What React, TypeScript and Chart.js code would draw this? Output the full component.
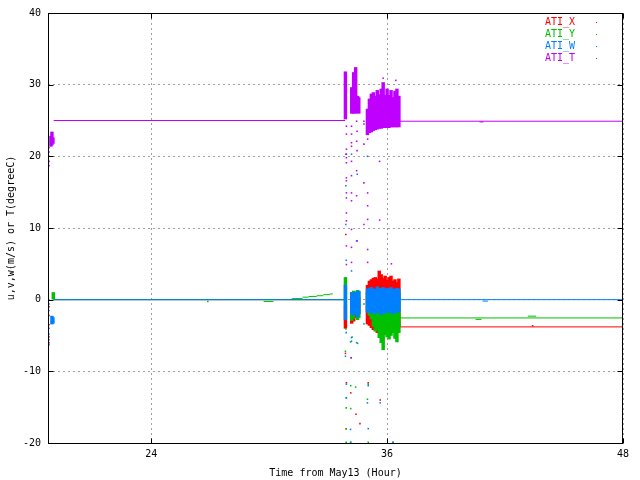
import React, { useEffect, useRef } from "react";
import { Chart, registerables } from "chart.js";

Chart.register(...registerables);

const MONO = "DejaVu Sans Mono";

// axes
const X_MIN = 18.75;
const X_MAX = 48;
const X_TICKS = [24, 36, 48];
const Y_MIN = -20;
const Y_MAX = 40;
const Y_TICKS = [-20, -10, 0, 10, 20, 30, 40];

const NAMES = ["ATI_X", "ATI_Y", "ATI_W", "ATI_T"];
const COLORS = ["#ff0000", "#00c000", "#0080ff", "#c000ff"];

// flat stretches: [from hour, to hour, value]
const X_FLAT = [[19.04, 33.87, 0], [36.65, 48, -3.8]];
const Y_FLAT = [
  [19.04, 33.87, 0], [29.72, 30.22, -0.25],
  [31.15, 31.7, 0.15], [31.7, 32.0, 0.35], [32.0, 32.42, 0.45],
  [32.42, 32.76, 0.55], [32.76, 33.1, 0.7], [33.1, 33.24, 0.8],
  [36.65, 48, -2.55], [40.5, 40.8, -2.75], [43.16, 43.58, -2.3],
];
const W_FLAT = [[19.04, 33.87, 0], [36.65, 48, 0], [40.85, 41.13, -0.2]];
const T_FLAT = [[19.04, 33.87, 25], [36.65, 48, 24.9], [40.7, 40.9, 24.8]];

// noisy stretches: [hour, low, high]
const X_BURST = [
  [33.88, -4.0, -1.0],
  [34.2, -3.3, 0.5], [34.3, -3.0, 0.5], [34.4, -2.5, 0.5], [34.5, -2.2, 0.5], [34.56, -2.0, 0.3],
  [35.0, -3.4, 2.0], [35.1, -3.6, 2.6], [35.2, -3.9, 2.8], [35.3, -4.2, 3.0], [35.4, -4.0, 3.1],
  [35.5, -4.6, 2.9], [35.6, -4.3, 4.0], [35.7, -4.8, 3.5], [35.8, -4.5, 3.0], [35.9, -4.1, 3.3],
  [36.0, -4.4, 2.7], [36.1, -4.2, 3.1], [36.2, -3.9, 3.3], [36.3, -4.0, 2.6], [36.4, -4.3, 2.8],
  [36.5, -4.1, 2.4], [36.6, -3.8, 2.9],
];
const Y_BURST = [
  [19.02, 0, 1.0],
  [33.88, -1.0, 3.1],
  [34.2, -2.9, 1.0], [34.3, -2.6, 1.2], [34.4, -2.0, 0.8], [34.5, -2.8, 1.3], [34.56, -2.5, 1.1],
  [35.0, -1.6, 1.0], [35.1, -2.2, 1.1], [35.2, -2.7, 0.9], [35.3, -3.7, 1.0], [35.4, -4.4, 1.2],
  [35.5, -4.2, 0.9], [35.6, -5.3, 1.0], [35.7, -6.0, 1.1], [35.8, -7.0, 0.9], [35.9, -4.9, 1.0],
  [36.0, -5.2, 1.2], [36.1, -5.5, 1.0], [36.2, -5.0, 0.9], [36.3, -4.6, 1.0], [36.4, -5.4, 1.1],
  [36.5, -5.9, 1.0], [36.6, -4.6, 0.9],
];
const W_BURST = [
  [18.95, -3.4, -2.3], [19.0, -3.3, -2.5],
  [33.88, -2.8, 2.0],
  [34.2, -2.0, 1.0], [34.3, -2.2, 0.9], [34.4, -1.8, 1.1], [34.5, -2.4, 1.0], [34.56, -1.9, 1.2],
  [35.0, -1.8, 1.5], [35.1, -1.6, 1.6], [35.2, -1.9, 1.7], [35.3, -1.7, 1.5], [35.4, -2.0, 1.4],
  [35.5, -1.6, 1.8], [35.6, -1.8, 1.5], [35.7, -2.1, 1.6], [35.8, -1.7, 1.7], [35.9, -1.9, 1.4],
  [36.0, -1.6, 1.6], [36.1, -1.8, 1.5], [36.2, -1.7, 1.7], [36.3, -2.0, 1.5], [36.4, -1.6, 1.4],
  [36.5, -1.8, 1.6], [36.6, -1.7, 1.5],
];
const T_BURST = [
  [18.9, 21.4, 22.8], [18.95, 21.6, 23.4], [19.0, 21.8, 22.6],
  [33.88, 25.2, 31.8],
  [34.2, 26.0, 29.6], [34.3, 26.0, 31.7], [34.4, 26.0, 32.4], [34.5, 26.1, 28.4], [34.56, 26.0, 28.2],
  [35.0, 23.0, 26.6], [35.1, 23.3, 28.0], [35.2, 23.4, 28.7], [35.3, 23.6, 28.9], [35.4, 23.7, 28.4],
  [35.5, 23.8, 29.2], [35.6, 23.9, 28.6], [35.7, 23.9, 29.4], [35.8, 24.0, 30.3], [35.9, 24.0, 28.5],
  [36.0, 24.0, 29.4], [36.1, 24.0, 28.5], [36.2, 24.1, 29.2], [36.3, 24.1, 28.2], [36.4, 24.1, 29.1],
  [36.5, 24.1, 29.4], [36.6, 24.1, 28.4],
];

// stray samples: [hour, value]
const X_DOTS = [
  [18.8, -1.0], [18.8, -2.2], [18.8, -3.5], [18.8, -5.2], [18.8, -6.0],
  [33.9, 9.1], [33.88, -7.5], [33.93, -11.6], [34.15, -13.0], [34.42, -16.0], [34.62, -17.3],
  [33.92, -18.0], [35.04, -11.6], [35.65, -14.0], [43.4, -3.65],
];
const Y_DOTS = [
  [26.88, -0.25],
  [33.92, 3.0], [33.9, -4.1], [34.22, -5.2], [34.14, -5.9], [34.5, -6.1], [33.88, -7.2],
  [34.15, -12.0], [34.4, -12.2], [35.04, -11.8], [33.92, -13.7], [35.0, -13.9], [33.92, -15.1],
  [34.15, -15.2], [33.92, -18.0], [33.92, -19.9], [34.15, -19.9], [35.04, -19.9], [36.3, -19.9],
];
const W_DOTS = [
  [18.8, -0.6], [18.8, -1.5], [18.8, -4.0], [18.8, -4.8], [18.8, -5.6], [18.8, -6.3],
  [33.9, 20.3], [34.19, 20.3], [34.48, 17.5], [35.0, 20.0], [33.9, 15.9], [33.9, 10.5],
  [34.48, 8.2], [33.92, 5.5], [34.19, 4.0], [33.92, -4.6], [34.19, -5.3], [34.19, -5.8],
  [34.45, -6.0], [34.82, -0.6], [34.82, -3.4], [33.88, -7.9], [34.17, -8.1],
  [33.93, -11.8], [35.04, -12.0], [33.93, -13.7], [35.0, -14.4], [35.65, -14.4],
  [34.14, -18.1], [35.04, -18.0], [34.14, -19.9], [36.3, -19.9],
];
const T_DOTS = [
  [18.8, 21.2], [18.8, 20.6], [18.8, 20.0], [18.8, 19.3], [18.8, 18.7],
  [33.93, 24.2], [33.93, 23.1], [33.93, 21.0], [33.93, 20.3], [33.93, 19.8], [33.93, 19.1],
  [33.93, 17.0], [33.93, 16.6], [33.93, 14.9], [33.93, 14.2], [33.93, 12.1], [33.93, 11.0],
  [33.93, 7.5], [33.93, 4.9],
  [34.19, 24.2], [34.19, 23.1], [34.19, 21.9], [34.19, 21.4], [34.19, 19.3], [34.19, 17.3],
  [34.19, 14.9], [34.19, 13.8], [34.19, 9.8], [34.19, 7.3], [34.19, 5.2], [34.17, -8.1],
  [34.45, 24.9], [34.45, 22.1], [34.45, 18.0], [34.45, 14.5], [34.45, 8.2], [34.47, 23.5], [34.47, 20.8],
  [34.82, 24.9], [34.82, 24.5], [34.82, 21.7], [34.82, 16.3], [34.82, 10.5],
  [35.01, 22.4], [35.01, 14.9], [35.01, 13.1], [35.01, 11.2], [35.01, 7.0], [35.01, 5.2],
  [35.62, 19.3], [35.62, 11.1], [36.22, 5.0], [35.8, 30.9], [36.44, 30.6],
];

const FLATS = [X_FLAT, Y_FLAT, W_FLAT, T_FLAT];
const BURSTS = [X_BURST, Y_BURST, W_BURST, T_BURST];
const DOTS = [X_DOTS, Y_DOTS, W_DOTS, T_DOTS];

const flatPoints = (segs: number[][]) =>
  segs.flatMap(([a, b, v]) => [{ x: a, y: v }, { x: b, y: v }, { x: b, y: null }]);

// frame, inward tics, axis titles and the key, gnuplot style
const gnuplotDecor = {
  id: "gnuplotDecor",
  afterDraw(chart: any) {
    const { ctx, chartArea: a } = chart;
    const xs = chart.scales.x;
    const ys = chart.scales.y;
    const L = a.left + 0.5, R = a.right - 0.5, T = a.top + 0.5, B = a.bottom + 0.5;
    ctx.save();
    ctx.strokeStyle = "#000";
    ctx.lineWidth = 1;
    ctx.strokeRect(L, T, R - L, B - T);
    ctx.beginPath();
    X_TICKS.forEach((v) => {
      const px = Math.round(xs.getPixelForValue(v)) + 0.5;
      ctx.moveTo(px, B); ctx.lineTo(px, B - 5);
      ctx.moveTo(px, T); ctx.lineTo(px, T + 5);
    });
    Y_TICKS.forEach((v) => {
      const py = Math.round(ys.getPixelForValue(v)) + 0.5;
      ctx.moveTo(L, py); ctx.lineTo(L + 5, py);
      ctx.moveTo(R, py); ctx.lineTo(R - 5, py);
    });
    ctx.stroke();

    ctx.font = `10px ${MONO}`;
    ctx.fillStyle = "#000";
    ctx.textAlign = "center";
    ctx.textBaseline = "middle";
    ctx.fillText("Time from May13 (Hour)", (a.left + a.right) / 2, 473);
    ctx.save();
    ctx.translate(11, (a.top + a.bottom) / 2);
    ctx.rotate(-Math.PI / 2);
    ctx.fillText("u,v,w(m/s) or T(degreeC)", 0, 0);
    ctx.restore();

    ctx.textAlign = "right";
    NAMES.forEach((name, i) => {
      const y = 22 + i * 12;
      ctx.fillStyle = COLORS[i];
      ctx.fillText(name, 575, y);
      ctx.fillRect(596, Math.round(y), 1, 1);
    });
    ctx.restore();
  },
};

export default function App() {
  const canvasRef = useRef<HTMLCanvasElement>(null);

  useEffect(() => {
    if (!canvasRef.current) return;
    const datasets: any[] = [];
    NAMES.forEach((name, i) => {
      const order = 4 - i;
      datasets.push({
        type: "scatter",
        label: name,
        data: flatPoints(FLATS[i]),
        showLine: true,
        spanGaps: false,
        borderColor: COLORS[i],
        borderWidth: 1,
        pointRadius: 0,
        order,
      });
      datasets.push({
        type: "bar",
        label: name,
        data: BURSTS[i].map(([t, lo, hi]) => ({ x: t, y: [lo, hi] })),
        backgroundColor: COLORS[i],
        borderWidth: 0,
        barThickness: 2.8,
        grouped: false,
        order,
      });
      datasets.push({
        type: "scatter",
        label: name,
        data: DOTS[i].map(([t, v]) => ({ x: t, y: v })),
        showLine: false,
        pointStyle: "rect",
        pointRadius: 1.1,
        pointBorderWidth: 0,
        pointBackgroundColor: COLORS[i],
        order,
      });
    });

    const tickFont = { family: MONO, size: 10 };
    const chart = new Chart(canvasRef.current, {
      type: "scatter",
      data: { datasets },
      options: {
        animation: false,
        responsive: false,
        devicePixelRatio: 1,
        layout: { padding: { top: 11, right: 17, left: 0, bottom: 0 } },
        plugins: { legend: { display: false }, tooltip: { enabled: false } },
        scales: {
          x: {
            type: "linear",
            min: X_MIN,
            max: X_MAX,
            offset: false,
            afterBuildTicks: (s: any) => { s.ticks = X_TICKS.map((value) => ({ value })); },
            afterFit: (s: any) => { s.height = 37; },
            ticks: { font: tickFont, color: "#000", padding: 5, maxRotation: 0, autoSkip: false },
            grid: { color: "#a0a0a0", drawTicks: false, offset: false },
            border: { display: false, dash: [2, 3] },
          },
          y: {
            type: "linear",
            min: Y_MIN,
            max: Y_MAX,
            afterBuildTicks: (s: any) => { s.ticks = Y_TICKS.map((value) => ({ value })); },
            afterFit: (s: any) => { s.width = 48; },
            ticks: { font: tickFont, color: "#000", padding: 7, autoSkip: false },
            grid: { color: "#a0a0a0", drawTicks: false },
            border: { display: false, dash: [2, 3] },
          },
        },
      },
      plugins: [gnuplotDecor],
    } as any);
    return () => chart.destroy();
  }, []);

  return (
    <div style={{ position: "absolute", left: 0, top: 0, width: 640, height: 480, background: "#fff" }}>
      <canvas ref={canvasRef} width={640} height={480} />
    </div>
  );
}
